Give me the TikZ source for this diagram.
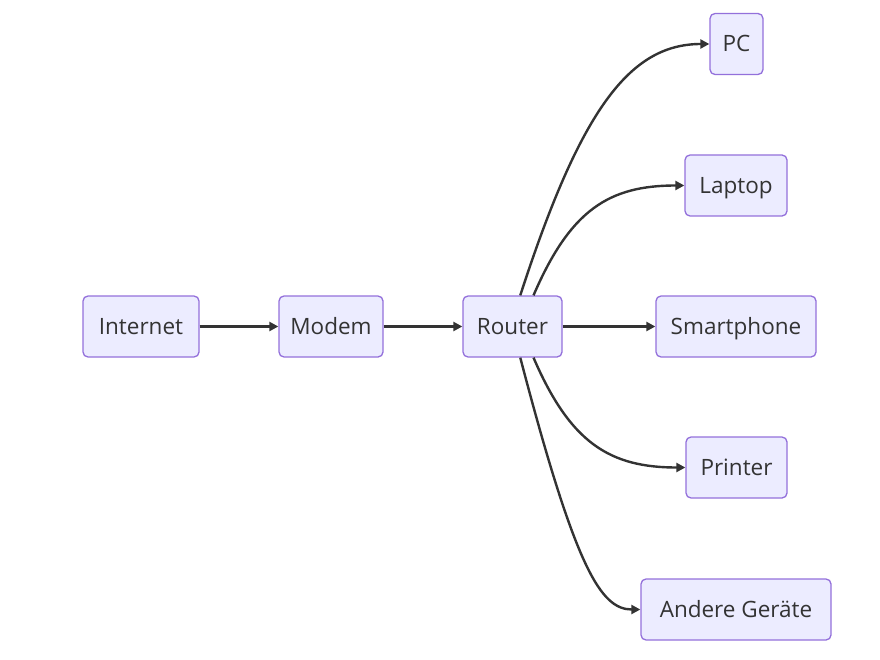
\documentclass[tikz,border=0pt]{standalone}
\usepackage{fontspec}
\setmainfont{Open Sans}
\usetikzlibrary{arrows.meta}
\definecolor{nfill}{HTML}{ECECFF}
\definecolor{nstroke}{HTML}{9370DB}
\definecolor{ink}{HTML}{333333}
\begin{document}
\begin{tikzpicture}[x=1pt,y=-1pt,
  box/.style={draw=nstroke,fill=nfill,line width=1.3pt,rounded corners=5pt,
    minimum height=61pt,inner sep=0pt,text=ink,text height=16pt,text depth=0pt,
    font=\fontsize{22.5}{26}\selectfont},
  link/.style={draw=ink,line width=2.4pt,-{Triangle[length=9pt,width=9pt]}}]
\useasboundingbox (0,0) rectangle (880,660);
\node[box,minimum width=116pt] (internet) at (141,326.5) {Internet};
\node[box,minimum width=104pt] (modem) at (331,326.5) {Modem};
\node[box,minimum width=99pt] (router) at (512.5,326.5) {Router};
\node[box,minimum width=160pt] (smart) at (736,326.5) {Smartphone};
\node[box,minimum width=53pt] (pc) at (736.5,44) {PC};
\node[box,minimum width=102pt] (laptop) at (736,185.5) {Laptop};
\node[box,minimum width=101pt] (printer) at (736.5,467.5) {Printer};
\node[box,minimum width=190pt] (andere) at (736,609.5) {Andere Geräte};
\draw[link] (internet) -- (modem);
\draw[link] (modem) -- (router);
\draw[link] (router) -- (smart);
\draw[link] (router.76) .. controls +(60,-185) and +(-80,0) .. (pc.west);
\draw[link] (router.56) .. controls +(37,-86) and +(-75,0) .. (laptop.west);
\draw[link] (router.-56) .. controls +(37,86) and +(-75,0) .. (printer.west);
\draw[link] (router.-76) .. controls +(55,210) and +(-40,0) .. (andere.west);
\end{tikzpicture}
\end{document}
